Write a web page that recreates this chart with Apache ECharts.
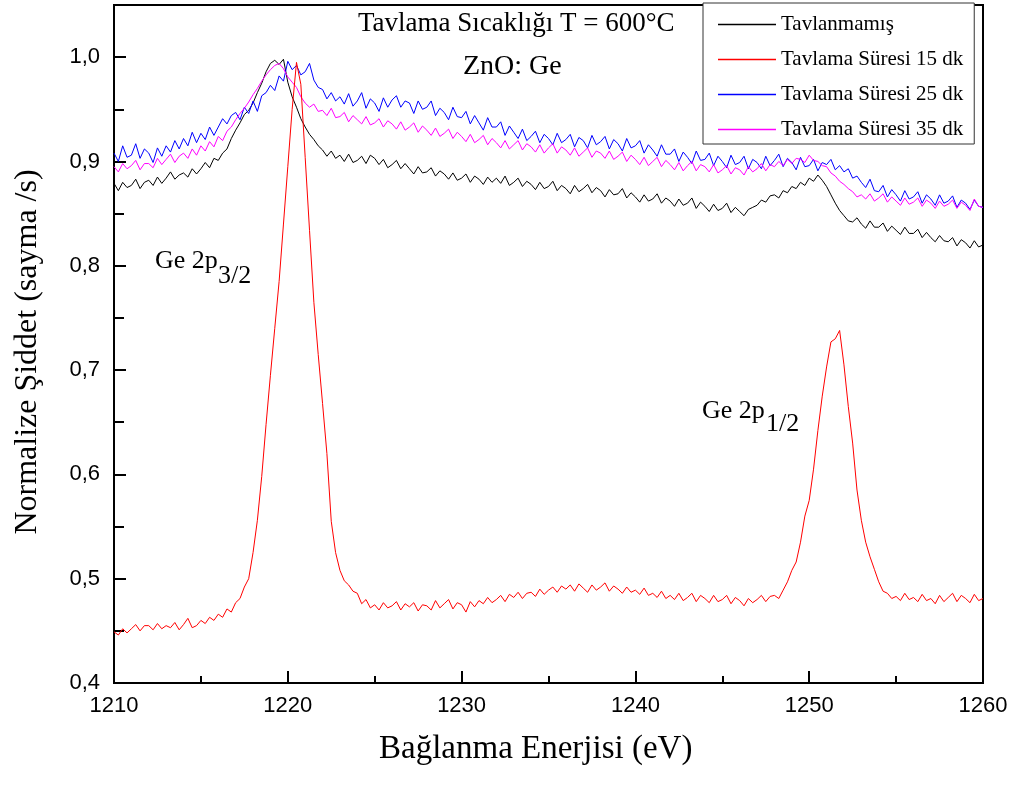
<!DOCTYPE html>
<html>
<head>
<meta charset="utf-8">
<script src="https://cdn.jsdelivr.net/npm/echarts@6/dist/echarts.min.js"></script>
<style>html,body{margin:0;padding:0;background:#fff;}#c{width:1023px;height:792px;}</style>
</head>
<body>
<div id="c"></div>
<script>
const energy = [
1210,1210.25,1210.5,1210.75,1211,1211.25,1211.5,1211.75,1212,1212.25,1212.5,1212.75,
1213,1213.25,1213.5,1213.75,1214,1214.25,1214.5,1214.75,1215,1215.25,1215.5,1215.75,
1216,1216.25,1216.5,1216.75,1217,1217.25,1217.5,1217.75,1218,1218.25,1218.5,1218.75,
1219,1219.25,1219.5,1219.75,1220,1220.25,1220.5,1220.75,1221,1221.25,1221.5,1221.75,
1222,1222.25,1222.5,1222.75,1223,1223.25,1223.5,1223.75,1224,1224.25,1224.5,1224.75,
1225,1225.25,1225.5,1225.75,1226,1226.25,1226.5,1226.75,1227,1227.25,1227.5,1227.75,
1228,1228.25,1228.5,1228.75,1229,1229.25,1229.5,1229.75,1230,1230.25,1230.5,1230.75,
1231,1231.25,1231.5,1231.75,1232,1232.25,1232.5,1232.75,1233,1233.25,1233.5,1233.75,
1234,1234.25,1234.5,1234.75,1235,1235.25,1235.5,1235.75,1236,1236.25,1236.5,1236.75,
1237,1237.25,1237.5,1237.75,1238,1238.25,1238.5,1238.75,1239,1239.25,1239.5,1239.75,
1240,1240.25,1240.5,1240.75,1241,1241.25,1241.5,1241.75,1242,1242.25,1242.5,1242.75,
1243,1243.25,1243.5,1243.75,1244,1244.25,1244.5,1244.75,1245,1245.25,1245.5,1245.75,
1246,1246.25,1246.5,1246.75,1247,1247.25,1247.5,1247.75,1248,1248.25,1248.5,1248.75,
1249,1249.25,1249.5,1249.75,1250,1250.25,1250.5,1250.75,1251,1251.25,1251.5,1251.75,
1252,1252.25,1252.5,1252.75,1253,1253.25,1253.5,1253.75,1254,1254.25,1254.5,1254.75,
1255,1255.25,1255.5,1255.75,1256,1256.25,1256.5,1256.75,1257,1257.25,1257.5,1257.75,
1258,1258.25,1258.5,1258.75,1259,1259.25,1259.5,1259.75,1260
];

const tavlanmamis = [
0.879,0.872,0.880,0.875, 0.877,0.883,0.874,0.880, 0.882,0.877,0.885,0.879,
0.884,0.890,0.883,0.887, 0.889,0.885,0.893,0.888, 0.893,0.899,0.894,0.903,
0.901,0.908,0.912,0.922, 0.930,0.937,0.945,0.949, 0.956,0.966,0.975,0.986,
0.994,0.997,0.993,0.998, 0.976,0.962,0.952,0.941, 0.933,0.926,0.921,0.915,
0.911,0.905,0.910,0.903, 0.906,0.900,0.907,0.899, 0.901,0.905,0.898,0.906,
0.903,0.897,0.902,0.894, 0.897,0.901,0.893,0.898, 0.893,0.888,0.895,0.889,
0.890,0.894,0.886,0.891, 0.888,0.883,0.889,0.882, 0.884,0.888,0.880,0.886,
0.883,0.878,0.885,0.880, 0.884,0.879,0.886,0.877, 0.880,0.884,0.876,0.881,
0.878,0.873,0.880,0.874, 0.876,0.881,0.872,0.877, 0.874,0.869,0.877,0.871,
0.874,0.878,0.870,0.875, 0.872,0.866,0.873,0.868, 0.869,0.874,0.865,0.870,
0.866,0.861,0.868,0.862, 0.864,0.869,0.860,0.865, 0.862,0.857,0.864,0.858,
0.860,0.865,0.855,0.861, 0.857,0.852,0.859,0.853, 0.855,0.860,0.851,0.856,
0.852,0.848,0.854,0.856, 0.858,0.863,0.861,0.867, 0.868,0.865,0.872,0.870,
0.876,0.874,0.880,0.877, 0.884,0.881,0.887,0.882, 0.876,0.868,0.860,0.853,
0.848,0.843,0.842,0.846, 0.840,0.836,0.843,0.837, 0.837,0.841,0.833,0.838,
0.834,0.830,0.837,0.831, 0.831,0.835,0.827,0.832, 0.827,0.823,0.829,0.824,
0.823,0.827,0.819,0.825, 0.822,0.817,0.824,0.818, 0.820
];

const sure15 = [
0.449,0.446,0.452,0.448, 0.452,0.456,0.450,0.455, 0.455,0.451,0.457,0.452,
0.455,0.453,0.458,0.451, 0.456,0.462,0.453,0.455, 0.460,0.457,0.463,0.460,
0.466,0.463,0.471,0.468, 0.477,0.481,0.492,0.500, 0.525,0.556,0.598,0.648,
0.695,0.740,0.785,0.840, 0.895,0.950,0.995,0.974, 0.904,0.834,0.765,0.715,
0.668,0.620,0.555,0.525, 0.508,0.498,0.494,0.488, 0.486,0.476,0.480,0.472,
0.475,0.470,0.477,0.472, 0.474,0.478,0.470,0.476, 0.473,0.477,0.469,0.475,
0.474,0.470,0.479,0.472, 0.476,0.480,0.471,0.477, 0.475,0.468,0.478,0.473,
0.479,0.476,0.482,0.477, 0.480,0.484,0.478,0.485, 0.482,0.487,0.481,0.486,
0.487,0.483,0.490,0.485, 0.489,0.492,0.487,0.493, 0.490,0.494,0.488,0.495,
0.491,0.487,0.494,0.489, 0.492,0.496,0.488,0.493, 0.490,0.486,0.492,0.487,
0.489,0.485,0.491,0.484, 0.486,0.482,0.488,0.481, 0.484,0.480,0.486,0.479,
0.482,0.486,0.478,0.484, 0.481,0.477,0.484,0.478, 0.480,0.484,0.476,0.482,
0.479,0.474,0.481,0.477, 0.480,0.484,0.478,0.483, 0.484,0.481,0.489,0.497,
0.508,0.516,0.535,0.560, 0.575,0.605,0.642,0.675, 0.703,0.727,0.730,0.738,
0.705,0.665,0.630,0.585, 0.556,0.535,0.521,0.509, 0.497,0.488,0.486,0.481,
0.483,0.479,0.486,0.480, 0.482,0.478,0.485,0.479, 0.481,0.476,0.484,0.478,
0.482,0.486,0.478,0.484, 0.481,0.477,0.485,0.479, 0.481
];

const sure25 = [
0.908,0.900,0.915,0.904, 0.906,0.917,0.903,0.912, 0.908,0.899,0.913,0.905,
0.915,0.909,0.920,0.912, 0.922,0.915,0.928,0.918, 0.927,0.921,0.933,0.925,
0.933,0.941,0.936,0.944, 0.947,0.940,0.952,0.946, 0.958,0.948,0.963,0.966,
0.973,0.968,0.982,0.977, 0.996,0.988,0.992,0.983, 0.986,0.994,0.978,0.971,
0.969,0.960,0.966,0.958, 0.962,0.955,0.965,0.953, 0.958,0.966,0.951,0.960,
0.956,0.948,0.961,0.952, 0.959,0.963,0.952,0.958, 0.956,0.946,0.958,0.950,
0.952,0.958,0.944,0.951, 0.947,0.940,0.952,0.943, 0.942,0.948,0.936,0.944,
0.937,0.930,0.942,0.933, 0.933,0.938,0.925,0.934, 0.928,0.922,0.931,0.920,
0.924,0.929,0.918,0.926, 0.922,0.916,0.927,0.918, 0.921,0.926,0.914,0.923,
0.920,0.913,0.925,0.916, 0.919,0.924,0.912,0.921, 0.917,0.910,0.922,0.913,
0.915,0.920,0.908,0.916, 0.911,0.905,0.916,0.907, 0.907,0.912,0.900,0.909,
0.904,0.898,0.910,0.901, 0.902,0.908,0.896,0.905, 0.900,0.894,0.906,0.897,
0.899,0.905,0.893,0.902, 0.899,0.893,0.905,0.896, 0.901,0.907,0.895,0.903,
0.899,0.892,0.904,0.895, 0.896,0.902,0.891,0.899, 0.897,0.902,0.892,0.896,
0.890,0.893,0.884,0.886, 0.880,0.875,0.883,0.872, 0.871,0.877,0.866,0.873,
0.868,0.862,0.872,0.864, 0.866,0.871,0.860,0.868, 0.864,0.858,0.868,0.860,
0.862,0.867,0.856,0.863, 0.860,0.854,0.863,0.857, 0.856
];

const sure35 = [
0.895,0.890,0.898,0.893, 0.896,0.901,0.892,0.898, 0.898,0.894,0.903,0.897,
0.902,0.907,0.899,0.905, 0.908,0.903,0.912,0.906, 0.915,0.910,0.919,0.914,
0.924,0.920,0.929,0.933, 0.940,0.946,0.951,0.957, 0.964,0.970,0.977,0.983,
0.988,0.992,0.994,0.989, 0.981,0.976,0.971,0.962, 0.956,0.952,0.955,0.948,
0.949,0.944,0.951,0.942, 0.943,0.947,0.938,0.944, 0.940,0.936,0.943,0.935,
0.937,0.941,0.933,0.939, 0.936,0.931,0.938,0.930, 0.933,0.937,0.928,0.934,
0.930,0.925,0.932,0.924, 0.927,0.931,0.922,0.928, 0.924,0.919,0.926,0.918,
0.921,0.925,0.916,0.922, 0.918,0.913,0.920,0.912, 0.916,0.920,0.911,0.917,
0.914,0.909,0.916,0.908, 0.913,0.917,0.908,0.914, 0.911,0.906,0.913,0.905,
0.909,0.913,0.904,0.910, 0.908,0.903,0.910,0.902, 0.905,0.909,0.900,0.906,
0.902,0.897,0.904,0.896, 0.900,0.904,0.895,0.901, 0.897,0.892,0.899,0.891,
0.896,0.900,0.891,0.897, 0.895,0.890,0.897,0.889, 0.892,0.896,0.888,0.894,
0.892,0.887,0.895,0.890, 0.893,0.898,0.891,0.897, 0.895,0.900,0.896,0.902,
0.898,0.903,0.902,0.899, 0.906,0.901,0.900,0.896, 0.895,0.889,0.886,0.881,
0.878,0.874,0.871,0.866, 0.868,0.864,0.869,0.862, 0.865,0.869,0.861,0.866,
0.862,0.858,0.865,0.859, 0.861,0.865,0.857,0.863, 0.860,0.855,0.862,0.857,
0.859,0.863,0.855,0.861, 0.858,0.853,0.864,0.857, 0.856
];

const seriesNames = ['Tavlanmamış', 'Tavlama Süresi 15 dk', 'Tavlama Süresi 25 dk', 'Tavlama Süresi 35 dk'];
const seriesColors = ['#000000', '#ff0000', '#0000ff', '#ff00ff'];
const seriesValues = [tavlanmamis, sure15, sure25, sure35];

const xTitle = 'Bağlanma Enerjisi (eV)';
const yTitle = 'Normalize Şiddet (sayma /s)';
const title1 = 'Tavlama Sıcaklığı T = 600°C';
const title2 = 'ZnO: Ge';

const serif = '"Liberation Serif", "Times New Roman", serif';
const sans = '"Liberation Sans", Arial, sans-serif';

function pairs(vals) { return vals.map((v, i) => [energy[i], v]); }

const chart = echarts.init(document.getElementById('c'), null, { renderer: 'canvas' });
chart.setOption({
  animation: false,
  backgroundColor: '#ffffff',
  grid: { left: 114, right: 40, top: 5, bottom: 109, show: true, borderColor: '#000', borderWidth: 2, backgroundColor: 'transparent' },
  legend: {
    orient: 'vertical', left: 703, top: 3,
    data: seriesNames,
    icon: 'rect',
    itemWidth: 58, itemHeight: 1.5, itemGap: 14,
    padding: [11, 11, 4, 15],
    backgroundColor: '#fff', borderColor: '#333', borderWidth: 1,
    textStyle: { fontFamily: serif, fontSize: 21, color: '#000', lineHeight: 20 }
  },
  xAxis: {
    type: 'value', min: 1210, max: 1260, interval: 10,
    axisLine: { show: true, onZero: false, lineStyle: { color: '#000', width: 2 } },
    axisTick: { show: true, inside: true, length: 12, lineStyle: { color: '#000', width: 2 } },
    minorTick: { show: true, splitNumber: 2, length: 7, lineStyle: { color: '#000', width: 2 } },
    splitLine: { show: false },
    axisLabel: { color: '#000', fontFamily: sans, fontSize: 22, margin: 12, formatter: v => String(v) }
  },
  yAxis: {
    type: 'value', min: 0.4, max: 1.05, interval: 0.1,
    axisLine: { show: true, onZero: false, lineStyle: { color: '#000', width: 2 } },
    axisTick: { show: true, inside: true, length: 12, lineStyle: { color: '#000', width: 2 } },
    minorTick: { show: true, splitNumber: 2, length: 10, lineStyle: { color: '#000', width: 2 } },
    splitLine: { show: false },
    axisLabel: { color: '#000', fontFamily: sans, fontSize: 22, margin: 14,
      formatter: v => (v > 1.01 ? '' : v.toFixed(1).replace('.', ',')) }
  },
  series: seriesNames.map((n, k) => ({
    name: n, type: 'line', data: pairs(seriesValues[k]),
    symbol: 'none', smooth: false,
    lineStyle: { color: seriesColors[k], width: 1 },
    itemStyle: { color: seriesColors[k] },
    z: k === 1 ? 4 : 3
  })),
  graphic: [
    { type: 'text', style: { text: title1, font: '27px ' + serif, fill: '#000' }, left: 358, top: 10 },
    { type: 'text', style: { text: title2, font: '28px ' + serif, fill: '#000' }, left: 463, top: 53 },
    { type: 'text', style: { text: 'Ge 2p', font: '26px ' + serif, fill: '#000' }, left: 155, top: 248 },
    { type: 'text', style: { text: '3/2', font: '26px ' + serif, fill: '#000' }, left: 218, top: 263 },
    { type: 'text', style: { text: 'Ge 2p', font: '26px ' + serif, fill: '#000' }, left: 702, top: 398 },
    { type: 'text', style: { text: '1/2', font: '26px ' + serif, fill: '#000' }, left: 766, top: 411 },
    { type: 'text', style: { text: xTitle, font: '33px ' + serif, fill: '#000' }, left: 379, top: 733 },
    { type: 'text', rotation: Math.PI / 2, style: { text: yTitle, font: '32px ' + serif, fill: '#000', textAlign: 'center', textVerticalAlign: 'middle' }, x: 28, y: 352 }
  ]
});
</script>
</body>
</html>
